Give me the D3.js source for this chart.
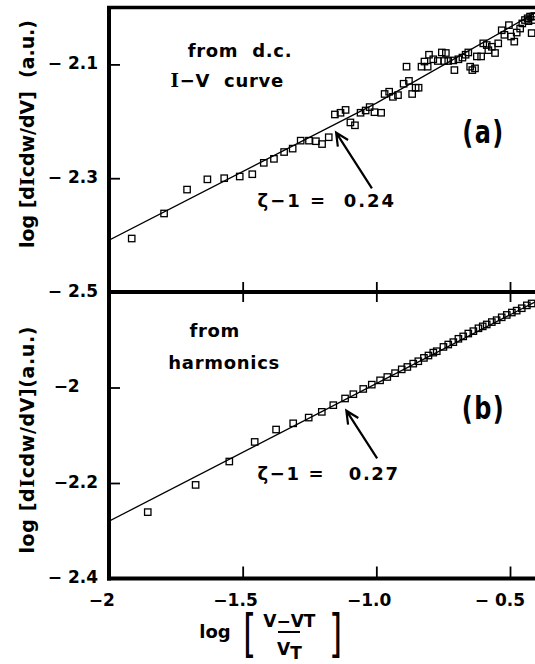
<!DOCTYPE html>
<html>
<head>
<meta charset="utf-8">
<script src="https://cdn.jsdelivr.net/npm/d3@7"></script>
<style>
body { margin: 0; background: #fff; }
svg { display: block; font-family: 'DejaVu Sans', sans-serif; font-weight: bold; }
text { white-space: pre; }
</style>
</head>
<body>
<script>
// panel (a) - from d.c. I-V curve
var aLogV = [-1.915, -1.794, -1.708, -1.632, -1.569, -1.511, -1.464, -1.421, -1.383, -1.345,
    -1.313, -1.283, -1.252, -1.226, -1.203, -1.178, -1.155, -1.134, -1.115, -1.097,
    -1.080, -1.059, -1.040, -1.025, -1.007, -0.982, -0.969, -0.952, -0.938, -0.919,
    -0.898, -0.878, -0.866, -0.853, -0.842, -0.887, -0.831, -0.820, -0.808, -0.803,
    -0.787, -0.770, -0.755, -0.740, -0.746, -0.731, -0.708, -0.712, -0.693, -0.678,
    -0.666, -0.656, -0.649, -0.641, -0.631, -0.624, -0.608, -0.600, -0.587, -0.581,
    -0.568, -0.556, -0.544, -0.531, -0.521, -0.504, -0.496, -0.484, -0.475, -0.462,
    -0.454, -0.444, -0.434, -0.425, -0.416, -0.419, -0.409, -0.431, -0.414];
var aLogG = [-2.406, -2.362, -2.320, -2.302, -2.300, -2.297, -2.293, -2.273, -2.266, -2.254,
    -2.248, -2.234, -2.234, -2.235, -2.240, -2.228, -2.188, -2.185, -2.180, -2.202,
    -2.207, -2.185, -2.181, -2.175, -2.184, -2.185, -2.152, -2.148, -2.157, -2.154,
    -2.134, -2.129, -2.152, -2.141, -2.141, -2.104, -2.104, -2.095, -2.104, -2.083,
    -2.091, -2.094, -2.079, -2.080, -2.094, -2.094, -2.110, -2.093, -2.091, -2.088,
    -2.083, -2.079, -2.104, -2.110, -2.107, -2.086, -2.086, -2.063, -2.066, -2.075,
    -2.069, -2.080, -2.063, -2.040, -2.048, -2.031, -2.051, -2.060, -2.044, -2.037,
    -2.028, -2.022, -2.019, -2.016, -2.016, -2.045, -2.015, -2.024, -2.022];
var aFitV = [-2, -1.0, -0.4];
var aFitG = [-2.409, -2.168, -2.008];

// panel (b) - from harmonics
var bLogV = [-1.855, -1.676, -1.550, -1.455, -1.375, -1.311, -1.253, -1.204, -1.161, -1.117,
    -1.086, -1.049, -1.017, -0.986, -0.959, -0.930, -0.905, -0.884, -0.862, -0.843,
    -0.822, -0.805, -0.787, -0.774, -0.749, -0.731, -0.712, -0.693, -0.675, -0.656,
    -0.637, -0.618, -0.602, -0.587, -0.568, -0.550, -0.531, -0.512, -0.493, -0.475,
    -0.456, -0.437, -0.419];
var bLogG = [-2.261, -2.204, -2.155, -2.114, -2.088, -2.075, -2.063, -2.051, -2.037, -2.023,
    -2.014, -2.003, -1.994, -1.985, -1.978, -1.970, -1.962, -1.957, -1.950, -1.945,
    -1.938, -1.933, -1.927, -1.924, -1.915, -1.910, -1.905, -1.898, -1.893, -1.887,
    -1.882, -1.876, -1.872, -1.868, -1.863, -1.859, -1.853, -1.848, -1.843, -1.839,
    -1.834, -1.828, -1.824];
var bFitV = [-2, -0.4];
var bFitG = [-2.28, -1.819];

var xTicks = [-2, -1.5, -1.0, -0.5];
var xTickLabels = ['−2', '−1.5', '−1.0', '− 0.5'];
var aYTicks = [-2.1, -2.3, -2.5];
var aYLabels = ['− 2.1', '− 2.3', '− 2.5'];
var bYTicks = [-2, -2.2, -2.4];
var bYLabels = ['−2', '−2.2', '− 2.4'];

/**************************************/

var width = 535,
    height = 664,
    frameL = 109,
    frameT = 7.5,
    frameM = 292,
    frameB = 578.5;

var svg = d3.select('body').append('svg')
    .attr('width', width)
    .attr('height', height);

var x = d3.scaleLinear().domain([-2, -0.4065]).range([frameL, 535]);
var yA = d3.scaleLinear().domain([-2.5, -2.0]).range([frameM, frameT]);
var yB = d3.scaleLinear().domain([-2.4, -1.8]).range([frameB, frameM]);

var defs = svg.append('defs');
defs.append('clipPath').attr('id', 'clipA').append('rect')
    .attr('x', frameL).attr('y', frameT).attr('width', 440).attr('height', frameM - frameT);
defs.append('clipPath').attr('id', 'clipB').append('rect')
    .attr('x', frameL).attr('y', frameM).attr('width', 440).attr('height', frameB - frameM);

function tickStyle(g) {
    g.select('.domain').remove();
    g.selectAll('.tick line').attr('stroke', '#000').attr('stroke-width', 1.8);
    g.selectAll('.tick text').remove();
}

// y ticks, pointing inward
svg.append('g').attr('transform', 'translate(' + frameL + ',0)')
    .call(d3.axisLeft(yA).tickValues(aYTicks.slice(0, 2)).tickSizeInner(-11).tickSizeOuter(0))
    .call(tickStyle);
svg.append('g').attr('transform', 'translate(' + frameL + ',0)')
    .call(d3.axisLeft(yB).tickValues(bYTicks.slice(0, 2)).tickSizeInner(-11).tickSizeOuter(0))
    .call(tickStyle);

// x ticks: across the shared edge and up from the bottom
svg.append('g').attr('transform', 'translate(0,' + frameM + ')')
    .call(d3.axisBottom(x).tickValues(xTicks.slice(1)).tickSizeInner(-10).tickSizeOuter(0))
    .call(tickStyle);
svg.append('g').attr('transform', 'translate(0,' + frameM + ')')
    .call(d3.axisTop(x).tickValues(xTicks.slice(1)).tickSizeInner(-10).tickSizeOuter(0))
    .call(tickStyle);
svg.append('g').attr('transform', 'translate(0,' + frameB + ')')
    .call(d3.axisBottom(x).tickValues(xTicks.slice(1)).tickSizeInner(-12).tickSizeOuter(0))
    .call(tickStyle);

// frame
var frame = svg.append('g').attr('stroke', '#000').attr('fill', 'none');
frame.append('line').attr('x1', frameL - 2).attr('x2', 545).attr('y1', frameT).attr('y2', frameT).attr('stroke-width', 3.5);
frame.append('line').attr('x1', frameL - 2).attr('x2', 545).attr('y1', frameM).attr('y2', frameM).attr('stroke-width', 4);
frame.append('line').attr('x1', frameL - 2).attr('x2', 545).attr('y1', frameB).attr('y2', frameB).attr('stroke-width', 4);
frame.append('line').attr('x1', frameL).attr('x2', frameL).attr('y1', frameT - 1.5).attr('y2', frameB + 2).attr('stroke-width', 4);

// y tick labels (decimal aligned)
function yLabels(ticks, labels, scale) {
    var g = svg.append('g').attr('font-size', 17).attr('text-anchor', 'end');
    var probe = g.append('text').text('.2');
    var dotW = probe.node().getComputedTextLength();
    probe.remove();
    g.selectAll('text.yl').data(ticks).enter().append('text')
        .attr('class', 'yl')
        .attr('x', function(d, i) { return labels[i].indexOf('.') < 0 ? 98 - dotW : 98; })
        .attr('y', function(d) { return scale(d) + 4.5; })
        .text(function(d, i) { return labels[i]; });
}
yLabels(aYTicks, aYLabels, yA);
yLabels(bYTicks, bYLabels, yB);

// x tick labels, number centred on the tick, sign hanging left
var xl = svg.append('g').attr('font-size', 17);
xTicks.forEach(function(t, i) {
    var lab = xTickLabels[i],
        num = lab.replace(/^−\s?/, ''),
        sign = lab.slice(0, lab.length - num.length);
    var txt = xl.append('text').attr('y', 606);
    txt.append('tspan').text(sign);
    var n = txt.append('tspan').text(num);
    var full = txt.node().getComputedTextLength(),
        nw = n.node().getComputedTextLength();
    txt.attr('x', x(t) - (full - nw) - nw / 2);
});

// points and fitted lines
function panel(vs, gs, fitV, fitG, scale, clip) {
    var g = svg.append('g').attr('clip-path', 'url(#' + clip + ')');
    g.selectAll('rect').data(d3.range(vs.length)).enter().append('rect')
        .attr('x', function(i) { return x(vs[i]) - 3.2; })
        .attr('y', function(i) { return scale(gs[i]) - 3.2; })
        .attr('width', 6.4)
        .attr('height', 6.4)
        .attr('fill', 'none')
        .attr('stroke', '#000')
        .attr('stroke-width', 1.3);
    var line = d3.line()
        .x(function(i) { return x(fitV[i]); })
        .y(function(i) { return scale(fitG[i]); });
    g.append('path')
        .attr('d', line(d3.range(fitV.length)))
        .attr('fill', 'none')
        .attr('stroke', '#000')
        .attr('stroke-width', 1.3);
}
panel(aLogV, aLogG, aFitV, aFitG, yA, 'clipA');
panel(bLogV, bLogG, bFitV, bFitG, yB, 'clipB');

// arrows to the fitted lines
function arrow(x1, y1, x2, y2) {
    var ang = Math.atan2(y2 - y1, x2 - x1), len = 14, spread = 0.45;
    var p = 'M' + x1 + ',' + y1 + 'L' + x2 + ',' + y2 +
        'M' + (x2 - len * Math.cos(ang - spread)) + ',' + (y2 - len * Math.sin(ang - spread)) +
        'L' + x2 + ',' + y2 +
        'L' + (x2 - len * Math.cos(ang + spread)) + ',' + (y2 - len * Math.sin(ang + spread));
    svg.append('path').attr('d', p)
        .attr('fill', 'none').attr('stroke', '#000').attr('stroke-width', 2.2)
        .attr('stroke-linejoin', 'miter');
}
arrow(x(-1.0165), yA(-2.3178), x(-1.1504), yA(-2.220));
arrow(x(-0.997), yB(-2.1483), x(-1.1122), yB(-2.0486));

// annotations
var notes = svg.append('g').attr('font-size', 18).attr('letter-spacing', 0.7);
notes.append('text').attr('x', 187.7).attr('y', 56.7).text('from  d.c.');
var iv = notes.append('text').attr('x', 170.6).attr('y', 87.3);
iv.append('tspan').attr('font-family', 'DejaVu Serif').text('I');
iv.append('tspan').text('−V  curve');
notes.append('text').attr('x', 189.4).attr('y', 336.7).text('from');
notes.append('text').attr('x', 168.3).attr('y', 368.5).text('harmonics');
notes.append('text').attr('x', 257.6).attr('y', 206.7).attr('letter-spacing', 2).text('ζ−1 =  0.24');
notes.append('text').attr('x', 257.6).attr('y', 480).attr('letter-spacing', 1.6).text('ζ−1 =   0.27');

svg.append('text').attr('transform', 'translate(483.5,142.6) scale(1,1.3)')
    .attr('font-size', 24).attr('text-anchor', 'middle').attr('letter-spacing', 1.5).text('(a)');
svg.append('text').attr('transform', 'translate(483.5,419) scale(1,1.3)')
    .attr('font-size', 24).attr('text-anchor', 'middle').attr('letter-spacing', 1.5).text('(b)');

// y axis titles
function yTitle(cy, after, len) {
    var t = svg.append('text')
        .attr('transform', 'translate(34,' + cy + ') rotate(-90)')
        .attr('text-anchor', 'middle')
        .attr('font-size', 19)
        .attr('textLength', len)
        .attr('lengthAdjust', 'spacing');
    t.append('tspan').text('log [d');
    t.append('tspan').attr('font-family', 'DejaVu Serif').text('I');
    t.append('tspan').text('cdw/dV]' + after);
}
yTitle(134, '  (a.u.)', 228);
yTitle(440, '(a.u.)', 227);

// x axis title
var xt = svg.append('g');
xt.append('text').attr('x', 199.3).attr('y', 638).attr('font-size', 18).text('log');
xt.append('text').attr('transform', 'translate(243,651) scale(1,1.5)')
    .attr('font-size', 34).attr('font-weight', 'normal').text('[');
xt.append('text').attr('transform', 'translate(329,651) scale(1,1.5)')
    .attr('font-size', 34).attr('font-weight', 'normal').text(']');
xt.append('text').attr('x', 263.3).attr('y', 627).attr('font-size', 17).text('V−VT');
var den = xt.append('text').attr('x', 277).attr('y', 655).attr('font-size', 17);
den.append('tspan').text('V');
den.append('tspan').attr('dy', 4).text('T');
xt.append('line').attr('x1', 278).attr('x2', 300).attr('y1', 632).attr('y2', 632)
    .attr('stroke', '#000').attr('stroke-width', 2);
</script>
</body>
</html>
